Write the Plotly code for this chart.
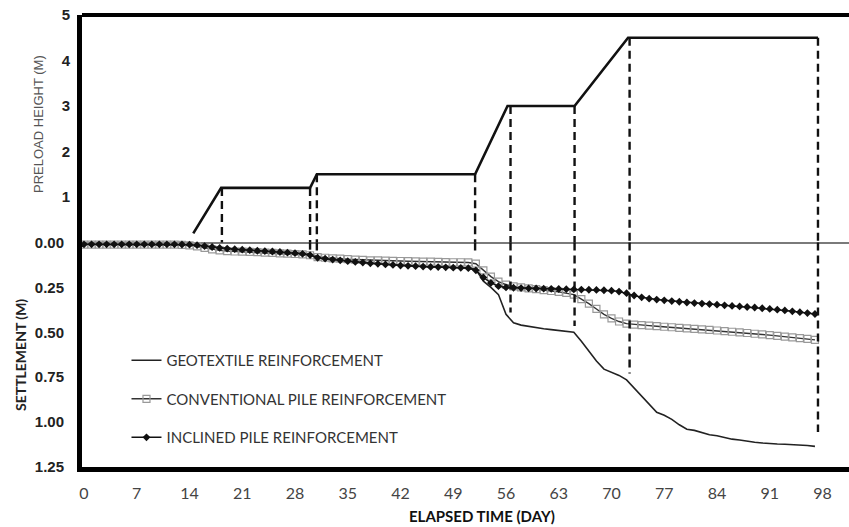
import plotly.graph_objects as go

# ---------------- data ----------------
days = list(range(0, 98))

geotextile = [
    0.010, 0.010, 0.010, 0.010, 0.010, 0.010, 0.010, 0.010, 0.010, 0.010,
    0.010, 0.010, 0.011, 0.012, 0.013, 0.016, 0.021, 0.028, 0.034, 0.038,
    0.040, 0.042, 0.044, 0.046, 0.048, 0.050, 0.052, 0.054, 0.056, 0.060,
    0.066, 0.080, 0.088, 0.093, 0.097, 0.100, 0.105, 0.110, 0.114, 0.118,
    0.122, 0.125, 0.128, 0.130, 0.132, 0.134, 0.135, 0.136, 0.137, 0.138,
    0.139, 0.140, 0.150, 0.215, 0.250, 0.290, 0.400, 0.447, 0.460, 0.468,
    0.474, 0.480, 0.485, 0.490, 0.495, 0.500, 0.550, 0.605, 0.660, 0.705,
    0.722, 0.740, 0.765, 0.810, 0.860, 0.905, 0.945, 0.962, 0.985, 1.015,
    1.040, 1.046, 1.058, 1.070, 1.076, 1.086, 1.095, 1.100, 1.107, 1.112,
    1.116, 1.120, 1.122, 1.123, 1.124, 1.126, 1.130, 1.135,
]

conventional = [
    0.012, 0.012, 0.012, 0.012, 0.012, 0.012, 0.012, 0.012, 0.012, 0.012,
    0.012, 0.012, 0.012, 0.013, 0.016, 0.022, 0.030, 0.038, 0.044, 0.048,
    0.050, 0.051, 0.052, 0.054, 0.056, 0.058, 0.060, 0.062, 0.064, 0.066,
    0.071, 0.081, 0.085, 0.088, 0.090, 0.093, 0.095, 0.097, 0.099, 0.100,
    0.101, 0.102, 0.103, 0.104, 0.105, 0.106, 0.107, 0.108, 0.109, 0.110,
    0.110, 0.111, 0.118, 0.155, 0.190, 0.218, 0.235, 0.244, 0.250, 0.255,
    0.260, 0.265, 0.270, 0.275, 0.281, 0.290, 0.315, 0.340, 0.370, 0.400,
    0.422, 0.440, 0.452, 0.457, 0.460, 0.463, 0.466, 0.469, 0.472, 0.475,
    0.478, 0.481, 0.484, 0.487, 0.490, 0.494, 0.497, 0.500, 0.504, 0.508,
    0.512, 0.516, 0.520, 0.524, 0.528, 0.532, 0.537, 0.542,
]

inclined = [
    0.010, 0.010, 0.010, 0.010, 0.010, 0.010, 0.010, 0.010, 0.010, 0.010,
    0.010, 0.010, 0.010, 0.011, 0.012, 0.015, 0.020, 0.025, 0.030, 0.034,
    0.037, 0.040, 0.043, 0.046, 0.048, 0.050, 0.053, 0.056, 0.059, 0.063,
    0.070, 0.085, 0.090, 0.095, 0.099, 0.104, 0.108, 0.112, 0.116, 0.119,
    0.122, 0.125, 0.128, 0.130, 0.132, 0.134, 0.136, 0.137, 0.138, 0.140,
    0.141, 0.143, 0.155, 0.195, 0.225, 0.243, 0.250, 0.252, 0.254, 0.255,
    0.256, 0.257, 0.258, 0.259, 0.260, 0.261, 0.262, 0.263, 0.264, 0.266,
    0.268, 0.273, 0.282, 0.295, 0.305, 0.313, 0.318, 0.322, 0.326, 0.330,
    0.334, 0.337, 0.340, 0.343, 0.346, 0.350, 0.353, 0.356, 0.359, 0.362,
    0.366, 0.370, 0.374, 0.378, 0.383, 0.388, 0.393, 0.398,
]

preload_days = [14.5, 18.2, 30.0, 30.9, 51.9, 56.2, 65.1, 72.2, 97.4]
preload_height = [0.2, 1.2, 1.2, 1.5, 1.5, 3.0, 3.0, 4.5, 4.5]

guide_days = [18.3, 30.0, 30.9, 51.9, 56.6, 65.1, 72.4, 97.4]
guide_top = [1.2, 1.2, 1.5, 1.5, 3.0, 3.0, 4.5, 4.5]
guide_bottom = [0.0, 0.04, 0.055, 0.065, 0.39, 0.465, 0.73, 1.055]

x_ticks = list(range(0, 99, 7))
preload_ticks = [1, 2, 3, 4, 5]
settlement_ticks = [0.0, 0.25, 0.50, 0.75, 1.00, 1.25]

series_names = [
    "GEOTEXTILE REINFORCEMENT",
    "CONVENTIONAL PILE REINFORCEMENT",
    "INCLINED PILE REINFORCEMENT",
]

# ---------------- figure ----------------
fig = go.Figure()

fig.add_trace(go.Scatter(
    x=days, y=geotextile, name=series_names[0], mode="lines",
    line=dict(color="#222222", width=1.6), yaxis="y2",
    legendgroup="g1",
))
fig.add_trace(go.Scatter(
    x=days, y=conventional, name=series_names[1], mode="lines+markers",
    line=dict(color="#333333", width=1.4),
    marker=dict(symbol="square-open", size=7, color="#999999",
                line=dict(width=1.2, color="#999999")),
    yaxis="y2", legendgroup="g2",
))
fig.add_trace(go.Scatter(
    x=days, y=inclined, name=series_names[2], mode="lines+markers",
    line=dict(color="#111111", width=1.5),
    marker=dict(symbol="diamond", size=6, color="#111111"),
    yaxis="y2", legendgroup="g3",
))

fig.add_trace(go.Scatter(
    x=preload_days, y=preload_height, mode="lines",
    line=dict(color="#111111", width=2.6), yaxis="y", showlegend=False,
    hoverinfo="skip",
))

gx_top, gy_top, gx_bot, gy_bot = [], [], [], []
for d, t, b in zip(guide_days, guide_top, guide_bottom):
    gx_top += [d, d, None]
    gy_top += [t, 0, None]
    gx_bot += [d, d, None]
    gy_bot += [0, b, None]
fig.add_trace(go.Scatter(
    x=gx_top, y=gy_top, mode="lines", yaxis="y", showlegend=False,
    line=dict(color="#111111", width=2.4, dash="8px,5px"), hoverinfo="skip",
))
fig.add_trace(go.Scatter(
    x=gx_bot, y=gy_bot, mode="lines", yaxis="y2", showlegend=False,
    line=dict(color="#111111", width=2.4, dash="8px,5px"), hoverinfo="skip",
))

W, H = 849, 527
ml, mr, mt, mb = 82, 0, 15, 60
ph = H - mt - mb
zero_px = 242.5
pre_px_per_m = 45.5
set_px_per_m = (467 - zero_px) / 1.25

pre_range = [-(H - mb - zero_px) / pre_px_per_m, (zero_px - mt) / pre_px_per_m]
set_range = [1.25, -(zero_px - mt) / set_px_per_m]

x_px_per_day = (822.5 - 84) / 98.0
x_range = [-(84 - ml) / x_px_per_day, (W - mr - 84) / x_px_per_day]

fig.update_layout(
    width=W, height=H,
    margin=dict(l=ml, r=mr, t=mt, b=mb, pad=0),
    paper_bgcolor="white", plot_bgcolor="white",
    showlegend=True,
    legend=dict(
        x=0.058, y=0.272, xanchor="left", yanchor="top",
        bgcolor="rgba(0,0,0,0)", borderwidth=0,
        font=dict(family="Lato", size=15, color="#333333"),
        tracegroupgap=16, itemwidth=30,
    ),
    xaxis=dict(
        range=x_range, tickmode="array", tickvals=x_ticks,
        ticks="", showgrid=False, zeroline=False,
        showline=True, linecolor="#000000", linewidth=5,
        tickfont=dict(family="Lato", size=16, color="#444444"),
        ticklabelstandoff=8,
    ),
    xaxis2=dict(
        range=x_range, overlaying="x", anchor="free",
        position=(H - mb - zero_px) / ph,
        tickmode="array", tickvals=x_ticks, ticks="inside", ticklen=4,
        tickcolor="#c8c8c8", tickwidth=1, showticklabels=False,
        showgrid=False, zeroline=False, showline=False,
    ),
    yaxis=dict(
        range=pre_range, tickmode="array", tickvals=preload_ticks,
        ticks="", showgrid=False, zeroline=False,
        showline=True, linecolor="#000000", linewidth=5,
        tickfont=dict(family="Liberation Sans", size=15, color="#222222",
                      weight="bold"),
        ticklabelstandoff=4,
    ),
    yaxis2=dict(
        range=set_range, overlaying="y", side="left", tickmode="array",
        tickvals=settlement_ticks, tickformat=".2f", ticks="",
        showgrid=False, zeroline=True, zerolinecolor="#7a7a7a",
        zerolinewidth=2, showline=False,
        tickfont=dict(family="Liberation Sans", size=15, color="#222222",
                      weight="bold"),
        ticklabelstandoff=17,
    ),
    shapes=[dict(type="line", xref="paper", yref="paper", x0=0, x1=1,
                 y0=1, y1=1, line=dict(color="#000000", width=4),
                 layer="above")],
    annotations=[
        dict(text="ELAPSED TIME (DAY)", xref="paper", yref="paper",
             x=(482 - ml) / (W - ml - mr), y=-(516 - (H - mb)) / ph,
             xanchor="center", yanchor="middle", showarrow=False,
             font=dict(family="Lato", size=15, color="#111111",
                       weight="bold")),
        dict(text="PRELOAD HEIGHT (M)", xref="paper", yref="paper",
             x=-(ml - 38) / (W - ml - mr), y=(H - mb - 124) / ph,
             xanchor="center", yanchor="middle", showarrow=False,
             textangle=-90,
             font=dict(family="Liberation Sans", size=13, color="#555555")),
        dict(text="SETTLEMENT (M)", xref="paper", yref="paper",
             x=-(ml - 20) / (W - ml - mr), y=(H - mb - 355) / ph,
             xanchor="center", yanchor="middle", showarrow=False,
             textangle=-90,
             font=dict(family="Lato", size=14, color="#222222",
                       weight="bold")),
    ],
)

fig.write_html("out.html")
